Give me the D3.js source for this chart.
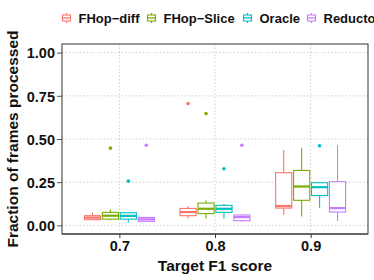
<!DOCTYPE html>
<html><head><meta charset="utf-8">
<script src="https://cdn.jsdelivr.net/npm/d3@7"></script>
<style>body{margin:0;background:#fff}svg{display:block}text{font-family:"Liberation Sans",Arial,sans-serif;font-weight:bold}</style>
</head><body><svg id="c" width="374" height="280"></svg>
<script>
const categories = ["0.7", "0.8", "0.9"];
const methods = ["FHop-diff", "FHop-Slice", "Oracle", "Reducto"];
const colors = ["#F8766D", "#7CAE00", "#00BFC4", "#C77CFF"];
const yTicks = [0, 0.25, 0.5, 0.75, 1.0];
// per method: [lowerWhisker, q1, median, q3, upperWhisker] for each category
const fhopDiff = [[0.03, 0.033, 0.045, 0.056, 0.075], [0.04, 0.056, 0.077, 0.098, 0.11], [0.062, 0.10, 0.112, 0.305, 0.437]];
const fhopSlice = [[0.03, 0.036, 0.056, 0.075, 0.092], [0.04, 0.068, 0.096, 0.129, 0.145], [0.052, 0.145, 0.225, 0.318, 0.449]];
const oracle = [[0.016, 0.036, 0.055, 0.073, 0.075], [0.04, 0.075, 0.096, 0.116, 0.123], [0.102, 0.173, 0.221, 0.247, 0.25]];
const reducto = [[0.02, 0.023, 0.035, 0.046, 0.048], [0.021, 0.027, 0.048, 0.06, 0.065], [0.025, 0.077, 0.10, 0.253, 0.464]];
// outliers per method for each category
const fhopDiffOut = [[], [0.705], []];
const fhopSliceOut = [[0.447], [0.647], []];
const oracleOut = [[0.256], [0.328], [0.461]];
const reductoOut = [[0.464], [0.464], []];

const stats = [fhopDiff, fhopSlice, oracle, reducto];
const outs = [fhopDiffOut, fhopSliceOut, oracleOut, reductoOut];

const svg = d3.select("#c");
const L = 62, R = 368, T = 44, B = 234;
const x = d3.scalePoint().domain(categories).range([L, R]).padding(0.6);
const y = d3.scaleLinear().domain([-0.05, 1.05]).range([B, T]);
const step = x.step();
const dodge = step * 0.75;
const xs = d3.scaleBand().domain(methods).range([-dodge / 2, dodge / 2]);
const bw = xs.bandwidth() * 0.9;

// grid
const g = svg.append("g");
g.selectAll(".hg").data(yTicks).join("line")
  .attr("x1", L).attr("x2", R).attr("y1", d => y(d)).attr("y2", d => y(d))
  .attr("stroke", "#d0d0d0").attr("stroke-width", 1).attr("stroke-dasharray", "1.5,2");
g.selectAll(".vg").data(categories).join("line")
  .attr("x1", d => x(d)).attr("x2", d => x(d)).attr("y1", T).attr("y2", B)
  .attr("stroke", "#d0d0d0").attr("stroke-width", 1).attr("stroke-dasharray", "1.5,2");

// boxes
methods.forEach((m, mi) => {
  const col = colors[mi];
  categories.forEach((c, ci) => {
    const [lo, q1, med, q3, hi] = stats[mi][ci];
    const cx = x(c) + xs(m) + xs.bandwidth() / 2;
    const gg = svg.append("g");
    gg.append("line").attr("x1", cx).attr("x2", cx).attr("y1", y(q3)).attr("y2", y(hi)).attr("stroke", col).attr("stroke-width", 1.1);
    gg.append("line").attr("x1", cx).attr("x2", cx).attr("y1", y(q1)).attr("y2", y(lo)).attr("stroke", col).attr("stroke-width", 1.1);
    gg.append("rect").attr("x", cx - bw / 2).attr("width", bw).attr("y", y(q3)).attr("height", Math.max(0.5, y(q1) - y(q3)))
      .attr("fill", "#fff").attr("stroke", col).attr("stroke-width", 1.1);
    gg.append("line").attr("x1", cx - bw / 2).attr("x2", cx + bw / 2).attr("y1", y(med)).attr("y2", y(med)).attr("stroke", col).attr("stroke-width", 2.2);
    gg.selectAll("circle.o").data(outs[mi][ci]).join("circle").attr("class", "o")
      .attr("cx", cx).attr("cy", d => y(d)).attr("r", 1.8).attr("fill", col);
  });
});

// panel border
svg.append("rect").attr("x", L).attr("y", T).attr("width", R - L).attr("height", B - T)
  .attr("fill", "none").attr("stroke", "#333").attr("stroke-width", 1);
svg.append("line").attr("x1", L).attr("x2", R).attr("y1", B).attr("y2", B).attr("stroke", "#666").attr("stroke-width", 2);

// axes
const ya = svg.append("g").attr("transform", `translate(${L},0)`)
  .call(d3.axisLeft(y).tickValues(yTicks).tickFormat(d3.format(".2f")).tickSize(5).tickPadding(2));
ya.select(".domain").remove();
ya.selectAll("line").attr("stroke", "#555");
ya.selectAll("text").attr("font-size", 14.5).attr("fill", "#111").attr("dy", "0.36em");
const xa = svg.append("g").attr("transform", `translate(0,${B})`)
  .call(d3.axisBottom(x).tickSize(4).tickPadding(3));
xa.select(".domain").remove();
xa.selectAll("line").attr("stroke", "#333");
xa.selectAll("text").attr("font-size", 14.5).attr("fill", "#111");

// titles
svg.append("text").attr("x", (L + R) / 2).attr("y", 271).attr("text-anchor", "middle").attr("font-size", 15.5).attr("fill", "#111").text("Target F1 score");
svg.append("text").attr("transform", `translate(18,${(T + B) / 2}) rotate(-90)`).attr("text-anchor", "middle").attr("font-size", 15.5).attr("fill", "#111").text("Fraction of frames processed");

// legend
const legX = [62, 147, 243, 307];
methods.forEach((m, i) => {
  const lg = svg.append("g").attr("transform", `translate(${legX[i]},18)`);
  const col = colors[i];
  lg.append("line").attr("x1", 4.5).attr("x2", 4.5).attr("y1", -5).attr("y2", 5).attr("stroke", col).attr("stroke-width", 1.1);
  lg.append("rect").attr("x", 0.5).attr("y", -3).attr("width", 8).attr("height", 6).attr("fill", "#fff").attr("stroke", col).attr("stroke-width", 1.1);
  lg.append("line").attr("x1", 0.5).attr("x2", 8.5).attr("y1", 0).attr("y2", 0).attr("stroke", col).attr("stroke-width", 1.3);
  lg.append("text").attr("x", 16.5).attr("y", 0).attr("dy", "0.36em").attr("font-size", 13).attr("fill", "#111").text(m.replace("-", "\u2212"));
});
</script></body></html>
